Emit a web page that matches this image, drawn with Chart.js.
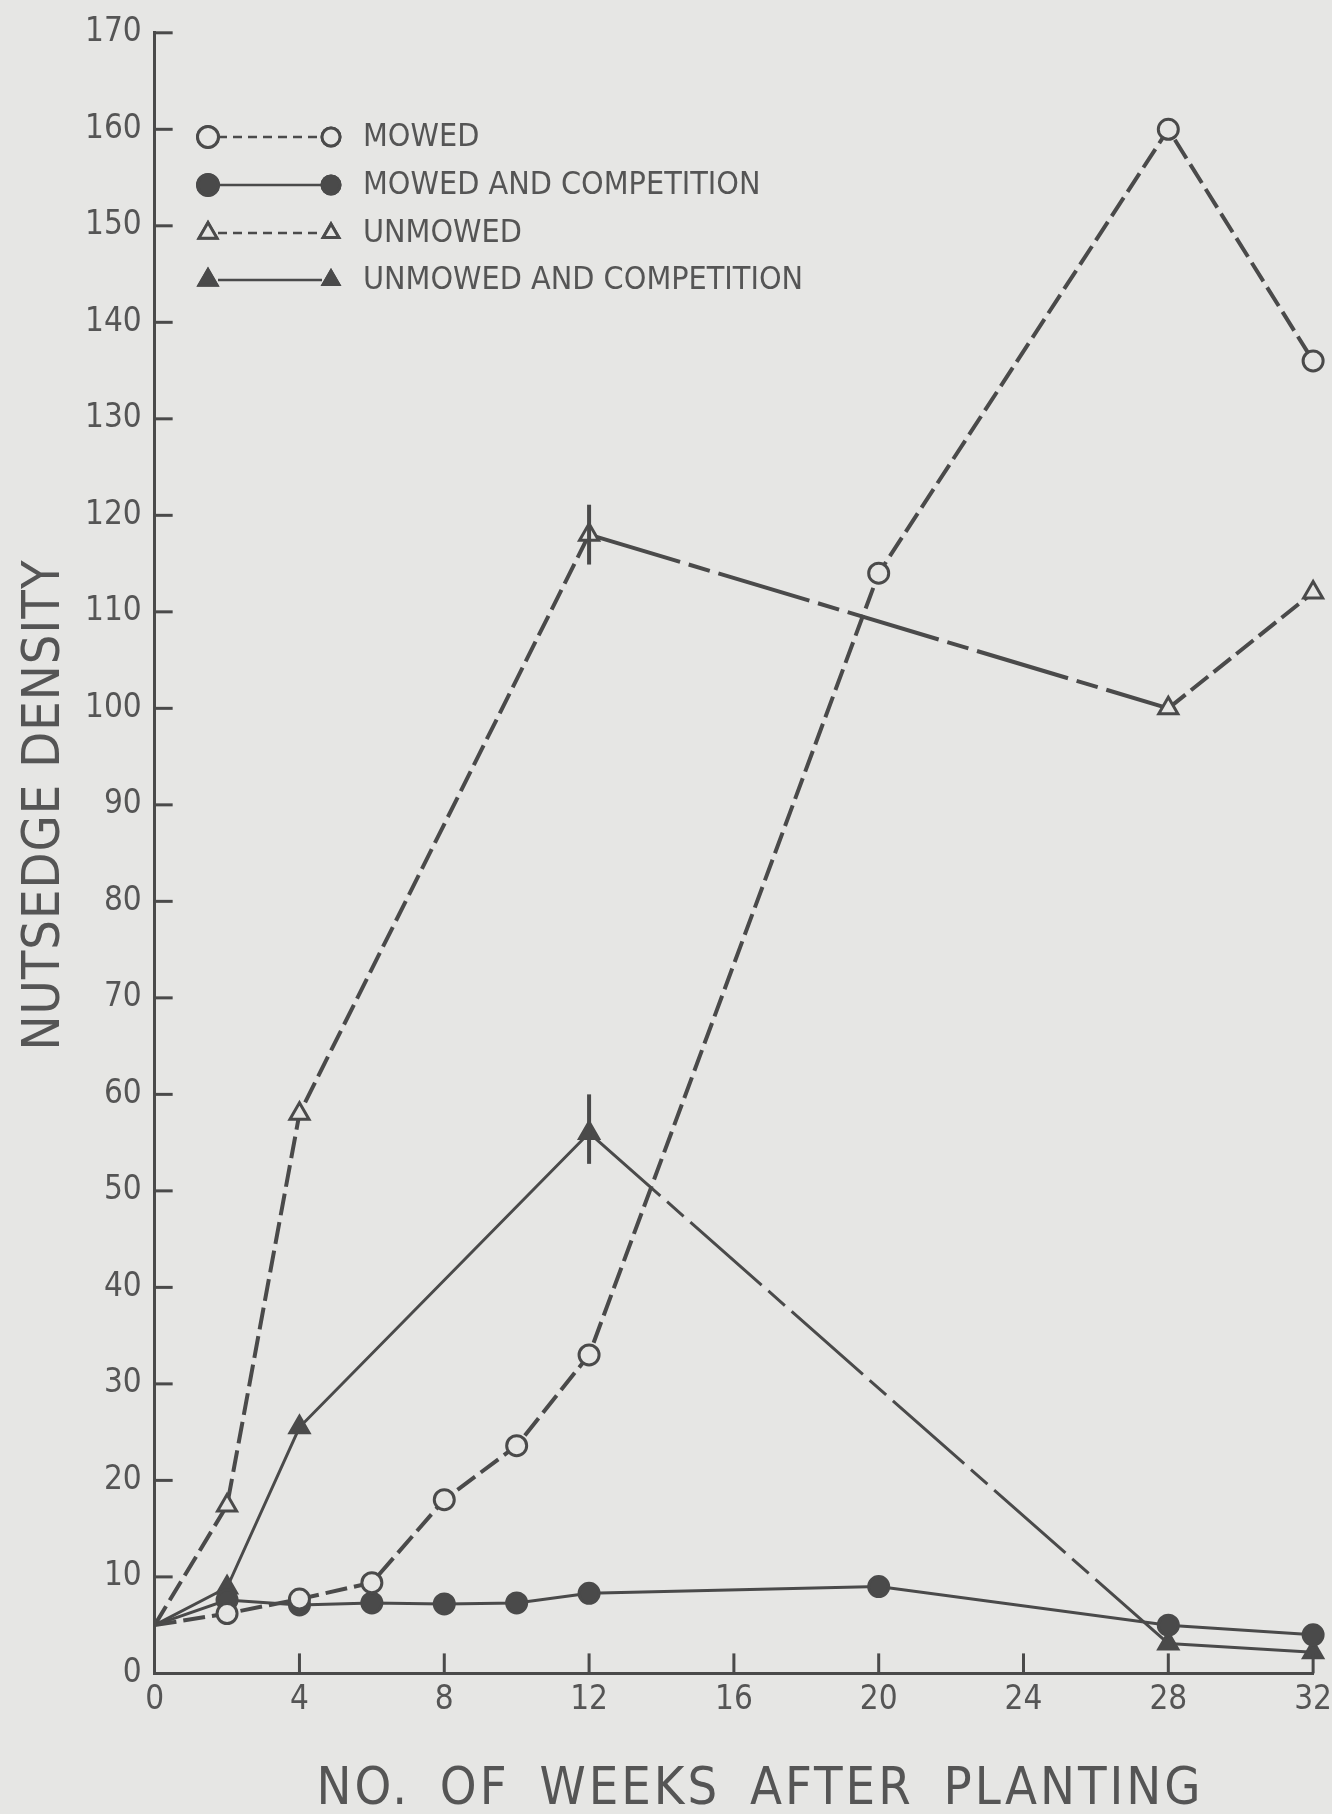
<!DOCTYPE html>
<html>
<head>
<meta charset="utf-8">
<script src="https://cdn.jsdelivr.net/npm/chart.js@4.4.1/dist/chart.umd.min.js"></script>
<style>
  html, body { margin: 0; padding: 0; background: #e6e6e4; overflow: hidden; }
  #wrap { width: 1332px; height: 1814px; overflow: hidden; }
</style>
</head>
<body>
<div id="wrap"><canvas id="chart" width="1339" height="1814"></canvas></div>
<script>
// DATA
const mowedWeeks = [0, 2, 4, 6, 8, 10, 12, 20, 28, 32];
const mowed = [5, 6.2, 7.7, 9.4, 18, 23.6, 33, 114, 160, 136];
const mowedComp = [5, 7.6, 7.1, 7.3, 7.2, 7.3, 8.3, 9, 5, 4];

const unmowedWeeks = [0, 2, 4, 12, 28, 32];
const unmowed = [5, 17.4, 58, 118, 100, 112];
const unmowedComp = [5, 8.9, 25.5, 56, 3.1, 2.2];

// vertical bars at week 12
const barWeek = 12;
const unmowedBar = [114.9, 121.1];
const unmowedCompBar = [52.8, 60];

const xTicks = [4, 8, 12, 16, 20, 24, 28, 32];
const legendLabels = ["MOWED", "MOWED AND COMPETITION", "UNMOWED", "UNMOWED AND COMPETITION"];
const xTitle = "NO. OF WEEKS AFTER PLANTING";
const yTitle = "NUTSEDGE DENSITY";

const INK = "#4a4a4a";
const TEXT = "#555";
const BG = "#e6e6e4";
const FONT = "'DejaVu Sans Condensed', 'DejaVu Sans', sans-serif";
const SHORT_DASH = [22, 7];
const LONG_DASH = [95, 9, 22, 9];

function pts(xs, ys) {
  return xs.map((x, i) => ({ x: x, y: ys[i] }));
}

// long dash where there are no readings between week 12 and 28
function gap(ctx, normal) {
  return ctx.p0.parsed.x === 12 && ctx.p1.parsed.x === 28 ? LONG_DASH : normal;
}

// INWARD TICKS, BARS, LEGEND, AXIS TITLES
const extras = {
  id: "extras",
  afterDraw(chart) {
    const c = chart.ctx;
    const xs = chart.scales.x;
    const ys = chart.scales.y;
    const area = chart.chartArea;

    c.save();
    c.strokeStyle = INK;
    c.lineWidth = 3;
    for (let v = 10; v <= 170; v += 10) {
      const y = ys.getPixelForValue(v);
      c.beginPath();
      c.moveTo(area.left, y);
      c.lineTo(area.left + 18, y);
      c.stroke();
    }
    xTicks.forEach(v => {
      const x = xs.getPixelForValue(v);
      c.beginPath();
      c.moveTo(x, area.bottom);
      c.lineTo(x, area.bottom - 20);
      c.stroke();
    });

    // bars
    c.lineWidth = 4;
    [unmowedBar, unmowedCompBar].forEach(b => {
      const x = xs.getPixelForValue(barWeek);
      c.beginPath();
      c.moveTo(x, ys.getPixelForValue(b[0]));
      c.lineTo(x, ys.getPixelForValue(b[1]));
      c.stroke();
    });

    // legend
    const rows = [137, 185, 233, 280];
    const x0 = 208, x1 = 331;
    chart.data.datasets.forEach((ds, i) => {
      const y = rows[i];
      c.strokeStyle = INK;
      c.lineWidth = 2.5;
      c.setLineDash(ds.borderDash && ds.borderDash.length ? [9, 6] : []);
      c.beginPath();
      c.moveTo(x0 + 10, y);
      c.lineTo(x1 - 9, y);
      c.stroke();
      c.setLineDash([]);
      [[x0, 10.5], [x1, 9]].forEach(m => {
        Chart.helpers.drawPoint(c, {
          pointStyle: ds.pointStyle,
          radius: m[1],
          borderWidth: 3
        }, m[0], y);
        c.fillStyle = ds.pointBackgroundColor;
        c.strokeStyle = INK;
        c.lineWidth = 3;
        c.fill();
        c.stroke();
      });
      c.fillStyle = TEXT;
      c.font = "32px " + FONT;
      c.textBaseline = "middle";
      c.textAlign = "left";
      c.fillText(legendLabels[i], 363, y + 1);
    });

    // axis titles
    c.fillStyle = TEXT;
    c.font = "52px " + FONT;
    c.textAlign = "center";
    c.textBaseline = "middle";
    c.letterSpacing = "3px";
    c.wordSpacing = "12px";
    c.fillText(xTitle, 760, 1790);
    c.letterSpacing = "1px";
    c.wordSpacing = "0px";
    c.translate(45, 805);
    c.rotate(-Math.PI / 2);
    c.fillText(yTitle, 0, 0);
    c.restore();
  }
};

function dataset(label, data, style, filled, dashed) {
  return {
    label: label,
    data: data,
    borderColor: INK,
    borderWidth: dashed ? 4 : 3,
    borderDash: dashed ? SHORT_DASH : [],
    segment: {
      borderDash: ctx => gap(ctx, dashed ? SHORT_DASH : [])
    },
    pointStyle: style,
    pointRadius: (ctx) => ctx.dataIndex === 0 ? 0 : (style === "triangle" ? 11 : 10),
    pointBorderWidth: 3,
    pointBorderColor: INK,
    pointBackgroundColor: filled ? INK : BG,
    tension: 0,
    clip: false
  };
}

new Chart(document.getElementById("chart"), {
  type: "line",
  data: {
    datasets: [
      dataset("MOWED", pts(mowedWeeks, mowed), "circle", false, true),
      dataset("MOWED AND COMPETITION", pts(mowedWeeks, mowedComp), "circle", true, false),
      dataset("UNMOWED", pts(unmowedWeeks, unmowed), "triangle", false, true),
      dataset("UNMOWED AND COMPETITION", pts(unmowedWeeks, unmowedComp), "triangle", true, false)
    ]
  },
  options: {
    responsive: false,
    animation: false,
    layout: { padding: { top: 6, right: 0, bottom: 87, left: 72 } },
    plugins: {
      legend: { display: false },
      tooltip: { enabled: false }
    },
    scales: {
      x: {
        type: "linear",
        min: 0,
        max: 32,
        grid: { display: true, drawOnChartArea: false, drawTicks: false },
        border: { display: true, color: INK, width: 3 },
        ticks: {
          stepSize: 4,
          padding: 7,
          color: TEXT,
          font: { family: FONT, size: 33 }
        }
      },
      y: {
        min: 0,
        max: 170,
        grid: { display: true, drawOnChartArea: false, drawTicks: false },
        border: { display: true, color: INK, width: 3 },
        ticks: {
          stepSize: 10,
          padding: 13,
          color: TEXT,
          font: { family: FONT, size: 33 }
        }
      }
    }
  },
  plugins: [extras]
});
</script>
</body>
</html>
